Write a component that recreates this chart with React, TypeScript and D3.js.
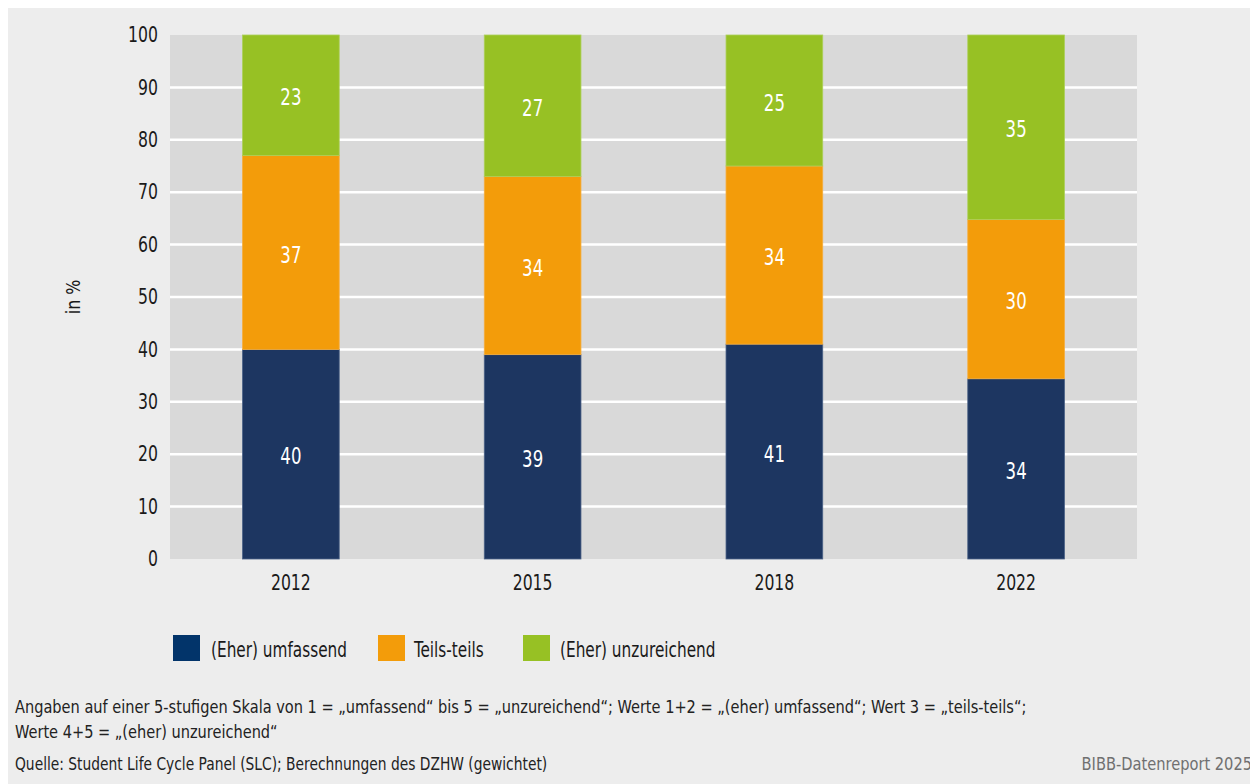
import React from "react";
import * as d3 from "d3";

const years = ["2012", "2015", "2018", "2022"];
const seriesNames = ["(Eher) umfassend", "Teils-teils", "(Eher) unzureichend"];
const umfassend = [40, 39, 41, 34.4];
const teilsTeils = [37, 34, 34, 30.4];
const unzureichend = [23, 27, 25, 35.2];
const yTicks = [0, 10, 20, 30, 40, 50, 60, 70, 80, 90, 100];
const colors = ["#1d3661", "#f39c0a", "#97c124"];
const legendColors = ["#02346a", "#f39c0a", "#97c124"];
const strokeColors = ["#4b6287", "#f5ae40", "#acd05a"];
const noteLines = [
  "Angaben auf einer 5-stufigen Skala von 1 = „umfassend“ bis 5 = „unzureichend“; Werte 1+2 = „(eher) umfassend“; Wert 3 = „teils-teils“;",
  "Werte 4+5 = „(eher) unzureichend“",
];
const sourceText = "Quelle: Student Life Cycle Panel (SLC); Berechnungen des DZHW (gewichtet)";
const brandText = "BIBB-Datenreport 2025";

const FONT = "'DejaVu Sans Condensed', 'Liberation Sans Narrow', sans-serif";

function T(props: {
  x: number;
  y: number;
  sx: number;
  size: number;
  fill: string;
  anchor?: string;
  dy?: string;
  children: React.ReactNode;
}) {
  const { x, y, sx, size, fill, anchor = "start", dy = "0.35em", children } = props;
  return (
    <text transform={`translate(${x},${y}) scale(${sx},1)`} textAnchor={anchor} dy={dy} fontSize={size} fill={fill}>
      {children}
    </text>
  );
}

export default function App() {
  const W = 1250;
  const H = 776;
  const ox = -8; // page offset (body margin)
  const left = 170 + ox;
  const right = 1137 + ox;
  const top = 35 + ox;
  const bottom = 559 + ox;

  const x = d3.scaleBand<string>().domain(years).range([left, right]).paddingInner(0.6).paddingOuter(0.3);
  const y = d3.scaleLinear().domain([0, 100]).range([bottom, top]);

  const rows = years.map((yr, i) => ({ year: yr, s0: umfassend[i], s1: teilsTeils[i], s2: unzureichend[i] }));
  const stack = d3.stack<any>().keys(["s0", "s1", "s2"]);
  const layers = stack(rows);

  const legendX = [173, 378, 523];
  const legendTextX = [211, 414, 560];

  return (
    <svg width={W} height={H} style={{ display: "block" }} fontFamily={FONT}>
      <rect x={0} y={0} width={W} height={H} fill="#ededed" />
      <rect x={left} y={top} width={right - left} height={bottom - top} fill="#d9d9d9" />
      {yTicks.filter((t) => t > 0 && t < 100).map((t) => (
        <line key={t} x1={left} x2={right} y1={y(t)} y2={y(t)} stroke="#ffffff" strokeWidth={2.5} />
      ))}
      {yTicks.map((t) => (
        <T key={t} x={158 + ox} y={y(t)} sx={0.85} size={20.5} fill="#1a1a1a" anchor="end">
          {t}
        </T>
      ))}
      <text transform={`translate(${80 + ox},${297 + ox}) rotate(-90) scale(0.88,1)`} textAnchor="middle" fontSize={20} fill="#1a1a1a">
        in %
      </text>
      {layers.map((layer, li) => (
        <g key={li}>
          {layer.map((d: any, i: number) => {
            const bx = x(years[i]) as number;
            const y0 = y(d[0]);
            const y1 = y(d[1]);
            return (
              <g key={i}>
                <rect x={bx} y={y1} width={x.bandwidth()} height={y0 - y1} fill={colors[li]} stroke={strokeColors[li]} strokeWidth={0.8} />
                <T x={bx + x.bandwidth() / 2} y={(y0 + y1) / 2 + 2} sx={0.8} size={23} fill="#ffffff" anchor="middle">
                  {Math.round(d[1] - d[0])}
                </T>
              </g>
            );
          })}
        </g>
      ))}
      {years.map((yr) => (
        <T key={yr} x={(x(yr) as number) + x.bandwidth() / 2} y={583 + ox} sx={0.85} size={20.5} fill="#1a1a1a" anchor="middle">
          {yr}
        </T>
      ))}
      {seriesNames.map((n, i) => (
        <g key={n}>
          <rect x={legendX[i] + ox} y={635 + ox} width={27} height={26} fill={legendColors[i]} />
          <T x={legendTextX[i] + ox} y={650 + ox} sx={0.83} size={20.5} fill="#1a1a1a">
            {n}
          </T>
        </g>
      ))}
      {noteLines.map((l, i) => (
        <T key={i} x={15 + ox} y={707 + i * 25 + ox} sx={0.875} size={18.5} fill="#222222">
          {l}
        </T>
      ))}
      <T x={15 + ox} y={764 + ox} sx={0.83} size={18.5} fill="#222222">
        {sourceText}
      </T>
      <T x={1252 + ox} y={764 + ox} sx={0.88} size={18.5} fill="#707070" anchor="end">
        {brandText}
      </T>
    </svg>
  );
}
